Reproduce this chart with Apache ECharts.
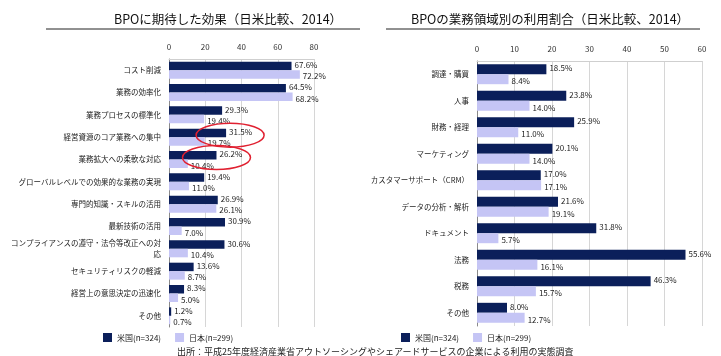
<!DOCTYPE html>
<html><head><meta charset="utf-8">
<script src="https://cdn.jsdelivr.net/npm/echarts@6/dist/echarts.min.js"></script>
<style>html,body{margin:0;padding:0;background:#fff}#c{width:721px;height:356px}</style>
</head><body><div id="c"></div>
<script>
const leftTitle = 'BPOに期待した効果（日米比較、2014）';
const rightTitle = 'BPOの業務領域別の利用割合（日米比較、2014）';
const seriesNames = ['米国(n=324)', '日本(n=299)'];
const leftCategories = ['コスト削減','業務の効率化','業務プロセスの標準化','経営資源のコア業務への集中','業務拡大への柔軟な対応','グローバルレベルでの効果的な業務の実現','専門的知識・スキルの活用','最新技術の活用','コンプライアンスの遵守・法令等改正への対応','セキュリティリスクの軽減','経営上の意思決定の迅速化','その他'];
const leftUS = [67.6,64.5,29.3,31.5,26.2,19.4,26.9,30.9,30.6,13.6,8.3,1.2];
const leftJP = [72.2,68.2,19.4,19.7,10.4,11.0,26.1,7.0,10.4,8.7,5.0,0.7];
const leftTicks = [0,20,40,60,80];
const rightCategories = ['調達・購買','人事','財務・経理','マーケティング','カスタマーサポート（CRM）','データの分析・解析','ドキュメント','法務','税務','その他'];
const rightUS = [18.5,23.8,25.9,20.1,17.0,21.6,31.8,55.6,46.3,8.0];
const rightJP = [8.4,14.0,11.0,14.0,17.1,19.1,5.7,16.1,15.7,12.7];
const rightTicks = [0,10,20,30,40,50,60];
const highlighted = [3,4];
const source = '出所：平成25年度経済産業省アウトソーシングやシェアードサービスの企業による利用の実態調査';

const FONT = '"Noto Sans CJK JP", "Noto Sans", sans-serif';
const NAVY = '#0b1f5a';
const LAV = '#c5c5f5';
const chart = echarts.init(document.getElementById('c'));

function xAxis(grid, ticks){
  return {gridIndex:grid, type:'value', position:'top', min:ticks[0], max:ticks[ticks.length-1],
    interval:ticks[1]-ticks[0],
    axisLine:{show:true, lineStyle:{color:'#cfcfcf'}}, axisTick:{show:false},
    axisLabel:{fontSize:8, color:'#333', fontFamily:FONT, margin:8},
    splitLine:{show:true, lineStyle:{color:'#d6d6d6'}}};
}
function yAxis(grid, cats){
  return {gridIndex:grid, type:'category', inverse:true, data:cats,
    axisLine:{show:true, lineStyle:{color:'#8a8a8a'}}, axisTick:{show:false},
    axisLabel:{fontSize:7.5, color:'#222', fontFamily:FONT, margin:8, width:152, overflow:'break', lineHeight:11}};
}
function lbl(dy){
  return {show:true, position:'right', distance:3, offset:[0,dy], fontSize:8, color:'#222', fontFamily:FONT,
    formatter: p => p.value.toFixed(1)+'%'};
}
function bars(grid, us, jp, gap){
  return [
    {name:seriesNames[0], type:'bar', xAxisIndex:grid, yAxisIndex:grid, data:us, barGap:'0%', barCategoryGap:gap,
     itemStyle:{color:NAVY}, label:lbl(-1)},
    {name:seriesNames[1], type:'bar', xAxisIndex:grid, yAxisIndex:grid, data:jp, barGap:'0%', barCategoryGap:gap,
     itemStyle:{color:LAV}, label:lbl(2)}
  ];
}
const legendBase = {data:seriesNames, itemWidth:9, itemHeight:9, itemGap:14, icon:'rect',
  textStyle:{fontSize:8, color:'#222', fontFamily:FONT}, top:328, selectedMode:false};

chart.setOption({
  animation:false,
  title:[
    {text:leftTitle, left:223, top:8, textAlign:'center', textStyle:{fontSize:12.5, fontWeight:'normal', color:'#111', fontFamily:FONT}},
    {text:rightTitle, left:545, top:8, textAlign:'center', textStyle:{fontSize:12.5, fontWeight:'normal', color:'#111', fontFamily:FONT}},
    {text:source, left:172, top:342, textStyle:{fontSize:9, fontWeight:'normal', color:'#222', fontFamily:FONT}}
  ],
  legend:[Object.assign({left:98}, legendBase), Object.assign({left:396}, legendBase)],
  grid:[{left:169, right:407, top:59, bottom:29}, {left:477, right:19, top:61, bottom:30}],
  xAxis:[xAxis(0, leftTicks), xAxis(1, rightTicks)],
  yAxis:[yAxis(0, leftCategories), yAxis(1, rightCategories)],
  series:[...bars(0, leftUS, leftJP, '24%'), ...bars(1, rightUS, rightJP, '25%')]
});

const g = [
  {type:'line', shape:{x1:46,y1:29,x2:360,y2:29}, style:{stroke:'#222', lineWidth:1}},
  {type:'line', shape:{x1:386,y1:29,x2:700,y2:29}, style:{stroke:'#222', lineWidth:1}}
];
highlighted.forEach((i,k) => {
  const p = chart.convertToPixel({gridIndex:0}, [leftUS[i], i]);
  g.push({type:'ellipse', shape:{cx:p[0] + (k===0?4:0), cy:p[1] - 2, rx:34, ry:12},
    style:{fill:'none', stroke:'#e02030', lineWidth:1.5}, z:100});
});
chart.setOption({graphic:g});
</script></body></html>
